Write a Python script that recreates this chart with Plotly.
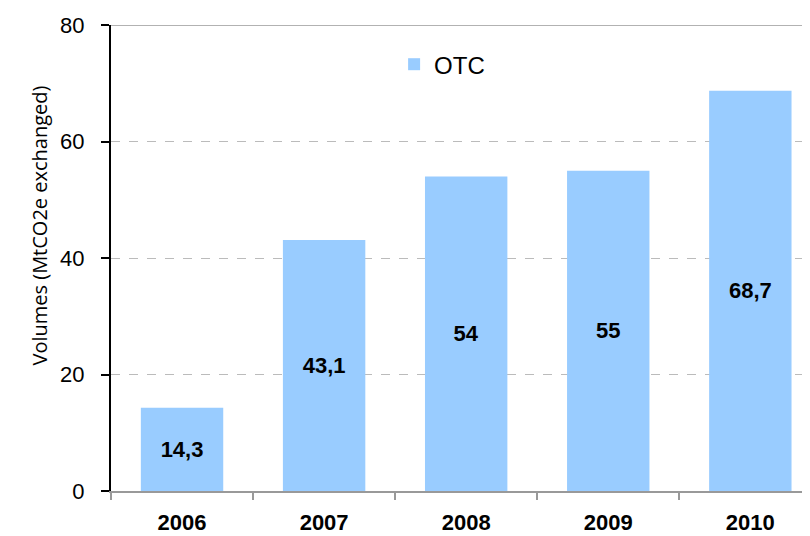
import plotly.graph_objects as go

years = ["2006", "2007", "2008", "2009", "2010"]
otc_volumes = [14.3, 43.1, 54, 55, 68.7]
y_ticks = [0, 20, 40, 60, 80]

bar_labels = ["<b>" + str(v).replace(".", ",") + "</b>" for v in otc_volumes]

fig = go.Figure()

fig.add_trace(go.Bar(x=years, y=otc_volumes,
                     name="OTC",
                     text=bar_labels,
                     textposition="inside",
                     insidetextanchor="middle",
                     textfont=dict(family="Liberation Sans, Arial", size=22, color="black"),
                     marker=dict(color="#99CCFF", line=dict(width=0))))

# top border of the plot area
fig.add_shape(type="line", xref="paper", yref="y", x0=0, x1=1, y0=80, y1=80,
              line=dict(color="#999999", width=1.5))

# y title as annotation so it sits where the original has it
fig.add_annotation(text="Volumes (MtCO2e exchanged)", textangle=-90,
                   xref="paper", yref="paper", x=-0.125, y=0.57,
                   showarrow=False, font=dict(size=20, family="Open Sans", color="black"))

# page body has an 8px margin, so the figure is 8px smaller than the window
fig.update_layout(width=802, height=528,
                  margin=dict(l=103, r=0, t=17, b=45),
                  plot_bgcolor="white",
                  paper_bgcolor="white",
                  bargap=0.42,
                  font=dict(family="Liberation Sans, Arial", color="black"),
                  showlegend=True,
                  legend=dict(x=0.405, y=0.915, xanchor="left", yanchor="middle",
                              itemwidth=30,
                              font=dict(size=24), bgcolor="rgba(0,0,0,0)"))

fig.update_xaxes(range=[-0.5, 4.42], automargin=False,
                 showline=True, linecolor="#999999", linewidth=2,
                 ticks="outside", tickson="boundaries", ticklen=7, tickcolor="#999999",
                 tickwidth=1.5,
                 tickfont=dict(size=22, family="Liberation Sans, Arial"),
                 tickprefix="<b>", ticksuffix="</b>",
                 ticklabelstandoff=11,
                 showgrid=False)

fig.update_yaxes(range=[0, 80], tickvals=y_ticks, automargin=False,
                 showline=True, linecolor="black", linewidth=2,
                 ticks="outside", ticklen=8, tickcolor="black", tickwidth=1.5,
                 tickfont=dict(size=22),
                 ticklabelstandoff=12,
                 showgrid=True, gridcolor="#BBBBBB", griddash="dash", gridwidth=1,
                 zeroline=False)

fig.write_html("out.html")
